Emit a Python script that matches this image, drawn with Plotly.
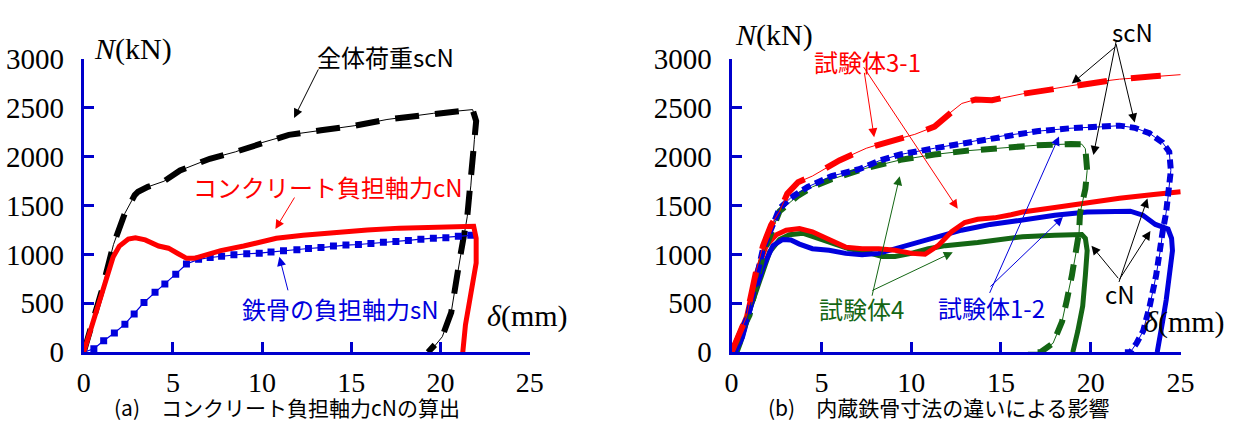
import plotly.graph_objects as go

W, H = 1248, 434

# ---------------- (a) コンクリート負担軸力cNの算出 ----------------
a_scN_d = [0, 0.5, 1.0, 1.67, 2.3, 2.86, 3.05, 3.6, 4.5, 5.4, 7.07, 8.5, 10.0, 11.5, 13.3,
           15.2, 17.0, 19.6, 21.8, 22.0, 21.9, 21.7, 21.5, 21.1, 20.85, 20.6, 20.1, 19.6, 19.3]
a_scN_N = [0, 300, 620, 1100, 1416, 1605, 1640, 1690, 1747, 1857, 1977, 2047, 2142, 2221, 2268,
           2315, 2378, 2441, 2479, 2362, 2173, 1700, 1384, 973, 689, 406, 158, 47, 0]

a_cN_d = [0, 0.72, 1.27, 1.65, 2.0, 2.5, 2.9, 3.45, 4.2, 4.75, 5.3, 5.77, 6.2, 6.77, 7.68, 8.97,
          10.8, 12.3, 14.1, 15.9, 17.7, 19.6, 21.86, 22.0, 22.0, 21.7, 21.4, 21.25]
a_cN_N = [0, 407, 722, 974, 1085, 1157, 1170, 1148, 1085, 1063, 1006, 959, 959, 991, 1038, 1085,
          1164, 1196, 1227, 1249, 1268, 1281, 1287, 1164, 912, 596, 280, 0]

a_sN_d = [0, 0.57, 1.12, 1.72, 2.31, 2.83, 3.38, 4.0, 4.55, 5.16, 5.76, 6.44, 7.09, 7.73, 8.42,
          9.14, 9.84, 10.5, 11.2, 11.95, 12.6, 13.3, 14.0, 14.7, 15.4, 16.1, 16.8, 17.5, 18.2,
          18.9, 19.6, 20.3, 21.0, 21.7]
a_sN_N = [0, 35, 117, 196, 287, 391, 508, 612, 697, 798, 902, 949, 968, 981, 997,
          1006, 1012, 1025, 1038, 1047, 1060, 1069, 1085, 1095, 1101, 1110, 1123, 1132, 1142,
          1155, 1164, 1170, 1186, 1195]

# ---------------- (b) 内蔵鉄骨寸法の違いによる影響 ----------------
# 試験体3-1
b31_scN_d = [0, 0.83, 1.38, 1.75, 2.2, 2.67, 3.1, 3.7, 4.5, 5.4, 6.0, 7.5, 8.6, 10.2, 11.3,
             12.06, 12.82, 13.6, 14.5, 16.2, 18.0, 19.8, 21.6, 23.5, 25.0]
b31_scN_N = [0, 363, 837, 1089, 1300, 1440, 1620, 1737, 1800, 1900, 1960, 2084, 2147, 2226, 2305,
             2431, 2542, 2583, 2575, 2640, 2695, 2750, 2790, 2820, 2836]
b31_cN_d = [0, 0.83, 1.38, 1.93, 2.49, 3.04, 3.78, 4.5, 5.43, 6.35, 7.27, 8.2, 9.1, 10.04, 10.77,
            11.5, 12.25, 12.98, 13.7, 14.64, 15.56, 16.2, 18.0, 19.8, 21.6, 23.5, 25.0]
b31_cN_N = [0, 363, 805, 1089, 1200, 1247, 1263, 1231, 1152, 1074, 1058, 1058, 1042, 1010, 1001,
            1089, 1231, 1326, 1358, 1373, 1405, 1432, 1479, 1527, 1574, 1612, 1640]

# 試験体1-2
b12_scN_d = [0, 0.9, 1.75, 2.67, 3.3, 4.24, 5.57, 7.1, 8.24, 9.4, 11.3, 13.2, 15.1, 17.0, 18.9,
             20.8, 21.6, 22.45, 23.27, 24.0, 24.37, 24.46, 24.37, 24.28, 24.19, 24.0, 23.9, 23.64,
             23.28, 22.92, 22.55, 22.2, 21.9]
b12_scN_N = [0, 360, 1058, 1468, 1579, 1689, 1800, 1870, 1958, 2021, 2084, 2147, 2210, 2258, 2289,
             2305, 2315, 2293, 2237, 2142, 2048, 1858, 1669, 1543, 1417, 1228, 1069, 785,
             470, 218, 92, 0, 0]
b12_cN_d = [0.2, 0.6, 1.2, 1.75, 2.3, 2.85, 3.3, 3.78, 4.5, 5.43, 6.35, 7.27, 8.2, 9.1, 10.04,
            10.96, 11.9, 12.8, 13.7, 14.4, 15.6, 16.2, 18.0, 19.8, 22.2, 22.9, 23.6, 24.3, 24.5,
            24.55, 24.4, 24.2, 24.0, 23.7]
b12_cN_N = [0, 150, 553, 868, 1089, 1152, 1146, 1105, 1058, 1042, 1010, 995, 1010, 1058, 1105,
            1152, 1200, 1247, 1279, 1306, 1335, 1353, 1400, 1432, 1441, 1400, 1306, 1259, 1164,
            1038, 785, 533, 312, 0]

# 試験体4
b4_scN_d = [0, 1.0, 1.75, 2.67, 3.66, 4.5, 5.57, 7.48, 9.4, 11.3, 13.2, 15.1, 17.0, 18.9, 19.5,
            19.7, 19.8, 19.7, 19.5, 19.4, 19.35, 19.2, 18.95, 18.67, 18.4, 17.9, 17.2, 16.5]
b4_scN_N = [0, 380, 1000, 1440, 1595, 1690, 1768, 1880, 1965, 2021, 2060, 2090, 2115, 2128, 2126,
            2079, 1858, 1669, 1511, 1417, 1227, 1038, 785, 533, 312, 92, 0, 0]
b4_cN_d = [0.3, 0.5, 1.0, 1.57, 2.12, 2.67, 3.22, 3.96, 4.7, 5.6, 6.5, 7.46, 8.38, 9.1, 10.0,
           10.96, 11.9, 13.7, 15.56, 16.2, 18.0, 19.5, 19.7, 19.8, 19.7, 19.55, 19.28, 19.0]
b4_cN_N = [0, 100, 426, 742, 1026, 1152, 1200, 1216, 1168, 1105, 1058, 1026, 979, 979, 1010,
           1058, 1089, 1121, 1159, 1180, 1195, 1202, 1164, 1038, 785, 470, 218, 0]

x_ticks = [0, 5, 10, 15, 20, 25]
y_ticks = [0, 500, 1000, 1500, 2000, 2500, 3000]

AXIS = "#0000CC"
RED = "#FF0000"
BLUE = "#0000DD"
GREEN = "#146614"
BLACK = "#000000"
SERIF = "Times New Roman, Liberation Serif, serif"
GOTHIC = "Noto Sans CJK JP"

# plot-area pixel frame of each panel
LEFT_PX = (78, 532)
RIGHT_PX = (737, 1194)
TOP_PX, BOT_PX = 46, 363

fig = go.Figure()


def dashed_pair(d, n, color, xa, ya, width, dash):
    """Thin solid guide line with thick dashes drawn over it."""
    fig.add_trace(go.Scatter(x=d, y=n, mode="lines", xaxis=xa, yaxis=ya,
                             line=dict(color=color, width=1), hoverinfo="skip"))
    fig.add_trace(go.Scatter(x=d, y=n, mode="lines", xaxis=xa, yaxis=ya,
                             line=dict(color=color, width=width, dash=dash), hoverinfo="skip"))


# panel (a)
dashed_pair(a_scN_d, a_scN_N, BLACK, "x", "y", 6, "24px,16px")
fig.add_trace(go.Scatter(x=a_sN_d, y=a_sN_N, mode="lines+markers", xaxis="x", yaxis="y",
                         line=dict(color=BLUE, width=1.2),
                         marker=dict(symbol="square", size=7, color=BLUE)))
fig.add_trace(go.Scatter(x=a_cN_d, y=a_cN_N, mode="lines", xaxis="x", yaxis="y",
                         line=dict(color=RED, width=5)))

# panel (b): cN solid curves first, scN dashed curves on top
fig.add_trace(go.Scatter(x=b4_cN_d, y=b4_cN_N, mode="lines", xaxis="x2", yaxis="y2",
                         line=dict(color=GREEN, width=5)))
fig.add_trace(go.Scatter(x=b12_cN_d, y=b12_cN_N, mode="lines", xaxis="x2", yaxis="y2",
                         line=dict(color=BLUE, width=5)))
fig.add_trace(go.Scatter(x=b31_cN_d, y=b31_cN_N, mode="lines", xaxis="x2", yaxis="y2",
                         line=dict(color=RED, width=5)))
dashed_pair(b4_scN_d, b4_scN_N, GREEN, "x2", "y2", 6, "16px,12px")
dashed_pair(b12_scN_d, b12_scN_N, BLUE, "x2", "y2", 6, "9px,5px")
dashed_pair(b31_scN_d, b31_scN_N, RED, "x2", "y2", 6, "30px,24px")


def axis_common(standoff, size):
    return dict(showline=True, linecolor=AXIS, linewidth=3, ticks="inside", ticklen=10,
                tickwidth=3, tickcolor=AXIS, showgrid=False, zeroline=False, mirror=False,
                ticklabelstandoff=standoff,
                tickfont=dict(family=SERIF, size=size, color="black"))


ydom = [(H - BOT_PX) / H, (H - TOP_PX) / H]
fig.update_layout(
    width=W, height=H, margin=dict(l=0, r=0, t=0, b=0),
    font=dict(family=SERIF, size=29, color="black"),
    paper_bgcolor="white", plot_bgcolor="white", showlegend=False,
    xaxis=dict(domain=[LEFT_PX[0] / W, LEFT_PX[1] / W], range=[0, 25.02], tickvals=x_ticks,
               anchor="y", **axis_common(3, 28)),
    yaxis=dict(domain=ydom, range=[0, 3000], tickvals=y_ticks, anchor="x", **axis_common(11, 29)),
    xaxis2=dict(domain=[RIGHT_PX[0] / W, RIGHT_PX[1] / W], range=[0, 25.02], tickvals=x_ticks,
                anchor="y2", **axis_common(3, 28)),
    yaxis2=dict(domain=ydom, range=[0, 3000], tickvals=y_ticks, anchor="x2", **axis_common(11, 29)),
)


def label(x, y, text, color="black", size=24, family=GOTHIC):
    fig.add_annotation(x=x / W, y=1 - y / H, xref="paper", yref="paper", text=text,
                       showarrow=False, xanchor="center", yanchor="middle",
                       font=dict(family=family, size=size, color=color))


def arrow(head, tail, color):
    fig.add_annotation(x=head[0] / W, y=1 - head[1] / H, xref="paper", yref="paper", text="",
                       showarrow=True, ax=tail[0] - head[0], ay=tail[1] - head[1],
                       arrowhead=2, arrowsize=1.8, arrowwidth=1, arrowcolor=color)


# axis titles
label(128, 36, "<i>N</i>(kN)", size=30, family=SERIF)
label(529, 324, "<i>δ</i>(mm)", size=30, family=SERIF)
label(780, 21, "<i>N</i>(kN)", size=30, family=SERIF)
label(1198, 330, "<i>δ</i>(mm)", size=30, family=SERIF)

# panel (a) labels
label(385, 44, "全体荷重scN", BLACK)
arrow((292, 110), (317, 60), BLACK)
label(327, 184, "コンクリート負担軸力cN", RED)
arrow((273, 230), (293, 197), RED)
label(339, 316, "鉄骨の負担軸力sN", BLUE)
arrow((277, 260), (286, 295), BLUE)

# panel (b) labels
label(875, 49, "試験体3-1", RED)
arrow((882, 131), (872, 65), RED)
arrow((967, 208), (872, 65), RED)
label(1145, 17, "scN", BLACK)
arrow((1083, 73), (1128, 35), BLACK)
arrow((1105, 150), (1128, 35), BLACK)
arrow((1147, 115), (1128, 35), BLACK)
label(1132, 300, "cN", BLACK)
arrow((1103, 248), (1131, 282), BLACK)
arrow((1160, 197), (1131, 282), BLACK)
arrow((1163, 232), (1131, 282), BLACK)
label(869, 316, "試験体4", GREEN)
arrow((908, 173), (880, 294), GREEN)
arrow((962, 255), (880, 294), GREEN)
label(1001, 315, "試験体1-2", BLUE)
arrow((1070, 130), (1000, 288), BLUE)
arrow((1074, 217), (1000, 288), BLUE)

# captions
label(285, 422, "(a)　コンクリート負担軸力cNの算出", BLACK, size=21)
label(948, 422, "(b)　内蔵鉄骨寸法の違いによる影響", BLACK, size=21)

fig.write_html("out.html")
